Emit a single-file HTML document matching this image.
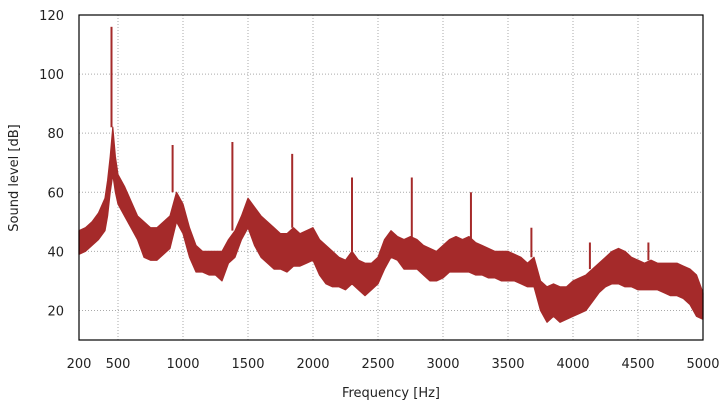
<!DOCTYPE html>
<html><head><meta charset="utf-8"><style>
body{margin:0;background:#fff;font-family:"Liberation Sans","DejaVu Sans",sans-serif}
svg text{font-family:"DejaVu Sans","Liberation Sans",sans-serif;font-size:13px;fill:#222}
</style></head><body>
<svg id="c" width="728" height="408"></svg>
<script>
const freqs=[200,250,300,350,400,420,440,460,480,500,550,600,650,700,750,800,850,900,950,1000,1050,1100,1150,1200,1250,1300,1350,1400,1450,1500,1550,1600,1650,1700,1750,1800,1850,1900,1950,2000,2050,2100,2150,2200,2250,2300,2350,2400,2450,2500,2550,2600,2650,2700,2750,2800,2850,2900,2950,3000,3050,3100,3150,3200,3250,3300,3350,3400,3450,3500,3550,3600,3650,3700,3750,3800,3850,3900,3950,4000,4050,4100,4150,4200,4250,4300,4350,4400,4450,4500,4550,4600,4650,4700,4750,4800,4850,4900,4950,5000];
const hiVals=[47,48,50,53,58,64,72,82,72,66,62,57,52,50,48,48,50,52,60,56,48,42,40,40,40,40,44,47,52,58,55,52,50,48,46,46,48,46,47,48,44,42,40,38,37,40,37,36,36,38,44,47,45,44,45,44,42,41,40,42,44,45,44,45,43,42,41,40,40,40,39,38,36,38,30,28,29,28,28,30,31,32,34,36,38,40,41,40,38,37,36,37,36,36,36,36,35,34,32,26];
const loVals=[39,40,42,44,47,52,60,66,60,56,52,48,44,38,37,37,39,41,50,46,38,33,33,32,32,30,36,38,44,48,42,38,36,34,34,33,35,35,36,37,32,29,28,28,27,29,27,25,27,29,34,38,37,34,34,34,32,30,30,31,33,33,33,33,32,32,31,31,30,30,30,29,28,28,20,16,18,16,17,18,19,20,23,26,28,29,29,28,28,27,27,27,27,26,25,25,24,22,18,17];
const peakFreqs=[450,920,1380,1840,2300,2760,3215,3680,4130,4580];
const peakVals=[116,76,77,73,65,65,60,48,43,43];
const xTicks=[200,500,1000,1500,2000,2500,3000,3500,4000,4500,5000];
const yTicks=[20,40,60,80,100,120];
const X0=79,X1=703,Y0=340,Y1=15;
const xs=f=>X0+(f-200)/4800*(X1-X0);
const ys=v=>Y0-(v-10)/110*(Y0-Y1);
const svg=document.getElementById('c');const NS='http://www.w3.org/2000/svg';
function mk(t,a,p){const e=document.createElementNS(NS,t);for(const k in a)e.setAttribute(k,a[k]);(p||svg).appendChild(e);return e;}
xTicks.forEach(t=>{const l=mk('line',{x1:xs(t),x2:xs(t),y1:Y1,y2:Y0,stroke:'#aaa','stroke-dasharray':'1,2','stroke-width':1});

const tx=mk('text',{x:xs(t),y:368,'text-anchor':'middle'});tx.textContent=t;
});
yTicks.forEach(t=>{const l=mk('line',{x1:X0,x2:X1,y1:ys(t),y2:ys(t),stroke:'#aaa','stroke-dasharray':'1,2','stroke-width':1});

const tx=mk('text',{x:64,y:ys(t)+5,'text-anchor':'end'});tx.textContent=t;
});
let up=freqs.map((f,i)=>xs(f)+','+ys(hiVals[i])).join(' ');
let dn=freqs.map((f,i)=>xs(f)+','+ys(loVals[i])).reverse().join(' ');
const band=mk('polygon',{points:up+' '+dn,fill:'#a52a2a',stroke:'#a52a2a','stroke-width':1.2,'stroke-linejoin':'round'});

peakFreqs.forEach((f,i)=>{let j=freqs.findIndex(q=>q>=f);const base=hiVals[Math.max(0,j)];
const l=mk('line',{x1:xs(f),x2:xs(f),y1:ys(base),y2:ys(peakVals[i]),stroke:'#a52a2a','stroke-width':2});
});
const fr=mk('rect',{x:X0,y:Y1,width:X1-X0,height:Y0-Y1,fill:'none',stroke:'#000','stroke-width':1.2});

const xt=mk('text',{x:(X0+X1)/2,y:397,'text-anchor':'middle'});xt.textContent='Frequency [Hz]';

const yt=mk('text',{x:18,y:178,'text-anchor':'middle',transform:'rotate(-90 18 178)'});yt.textContent='Sound level [dB]';

</script>
</body></html>
